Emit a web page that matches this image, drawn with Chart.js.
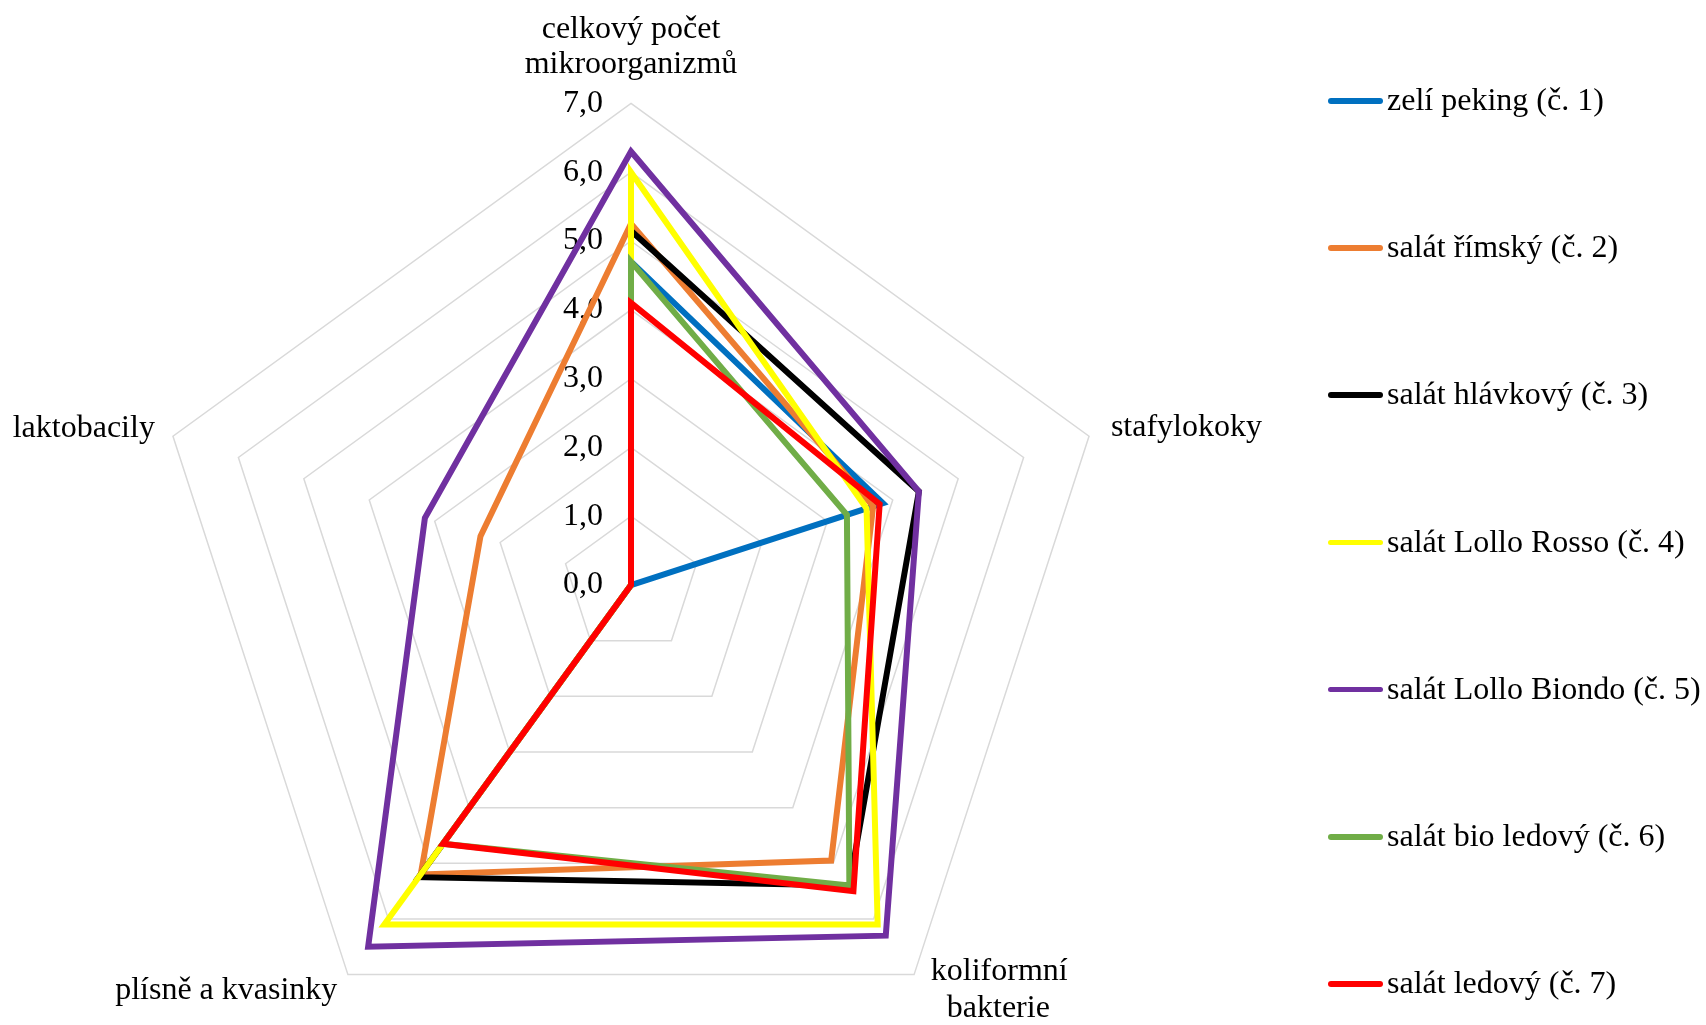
<!DOCTYPE html>
<html>
<head>
<meta charset="utf-8">
<title>Mikrobiologie salátů</title>
<script src="https://cdn.jsdelivr.net/npm/chart.js@4.4.1/dist/chart.umd.min.js"></script>
<style>
  html, body { margin: 0; padding: 0; background: #fff; overflow: hidden; width: 1706px; height: 1025px; }
  #wrap { position: absolute; left: -79px; top: -25px; width: 1420px; height: 1147px; }
  #legend { position: absolute; left: 0; top: 0; z-index: 2; }
  .item { position: absolute; left: 1328px; height: 40px; line-height: 40px; font-size: 32px; font-family: "Liberation Serif", "Times New Roman", serif; color: #000; white-space: nowrap; }
  .item .line { position: absolute; left: 0; top: 19px; width: 55px; height: 5.5px; border-radius: 3px; }
  .item .txt { position: absolute; left: 59px; top: 0; }
</style>
</head>
<body>
<div id="wrap"><canvas id="myChart"></canvas></div>
<div id="legend"></div>
<script>
var NB = '\u00a0'

// osy (kategorie)
var categories = [
    ['celkový počet', 'mikroorganizmů'],
    'stafylokoky',
    [NB.repeat(4) + 'koliformní', NB.repeat(6) + 'bakterie'],
    'plísně a kvasinky',
    'laktobacily'
]

var seriesNames = [
    'zelí peking (č. 1)',
    'salát římský (č. 2)',
    'salát hlávkový (č. 3)',
    'salát Lollo Rosso (č. 4)',
    'salát Lollo Biondo (č. 5)',
    'salát bio ledový (č. 6)',
    'salát ledový (č. 7)'
]

var colors = ['#0070C0', '#ED7D31', '#000000', '#FFFF00', '#7030A0', '#70AD47', '#FF0000']

// hodnoty: celkový počet, stafylokoky, koliformní, plísně a kvasinky, laktobacily
var zeliPeking = [4.7, 3.85, 0, 0, 0]
var rimsky = [5.25, 3.7, 4.95, 5.2, 2.3]
var hlavkovy = [5.15, 4.4, 5.4, 5.25, 0]
var lolloRosso = [6.0, 3.6, 6.1, 6.1, 0]
var lolloBiondo = [6.3, 4.4, 6.3, 6.5, 3.15]
var bioLedovy = [4.7, 3.3, 5.4, 4.65, 0]
var ledovy = [4.1, 3.8, 5.5, 4.65, 0]

var tickValues = [0, 1, 2, 3, 4, 5, 6, 7]

var allSeries = [zeliPeking, rimsky, hlavkovy, lolloRosso, lolloBiondo, bioLedovy, ledovy]

var labelPadding = [5, 7, -42, 2, 3]
var labelLineHeight = [1.1, 0.1, 1.15, 0.1, 0.1]

var datasets = []
for (var i in allSeries) {
    datasets.push({
        label: seriesNames[i],
        data: allSeries[i],
        // later series go on top (like Excel)
        order: allSeries.length - i,
        borderColor: colors[i],
        backgroundColor: 'rgba(0,0,0,0)',
        borderWidth: 6,
        borderJoinStyle: 'miter',
        pointRadius: 0,
        pointHoverRadius: 0,
        fill: false,
        tension: 0
    })
}

var ctx = document.getElementById('myChart').getContext('2d');
var chart = new Chart(ctx, {
    type: 'radar',
    data: {
        labels: categories,
        datasets: datasets
    },
    options: {
        responsive: true,
        maintainAspectRatio: false,
        animation: false,
        layout: { padding: 0 },
        plugins: {
            legend: { display: false },
            tooltip: { enabled: false }
        },
        scales: {
            r: {
                min: -1e-9,
                max: tickValues[tickValues.length - 1],
                angleLines: { display: false },
                grid: {
                    color: function (c) { return c.index === 0 ? 'rgba(0,0,0,0)' : '#d9d9d9' },
                    lineWidth: 1.5
                },
                ticks: {
                    stepSize: 1,
                    showLabelBackdrop: false,
                    backdropPadding: 0,
                    color: '#000',
                    font: { family: '"Liberation Serif", "Times New Roman", serif', size: 32 },
                    callback: function (value) {
                        return (Math.round(value * 10) / 10).toFixed(1).replace('.', ',') + NB.repeat(12)
                    }
                },
                pointLabels: {
                    color: '#000',
                    padding: function (c) { return labelPadding[c.index] },
                    font: function (c) {
                        return { family: '"Liberation Serif", "Times New Roman", serif', size: 32, lineHeight: labelLineHeight[c.index] }
                    }
                }
            }
        }
    }
});

// legenda vpravo
var legend = document.getElementById('legend')
for (var j in seriesNames) {
    var item = document.createElement('div')
    item.className = 'item'
    item.style.top = (101 + 147.2 * j - 22) + 'px'
    var line = document.createElement('span')
    line.className = 'line'
    line.style.background = colors[j]
    var txt = document.createElement('span')
    txt.className = 'txt'
    txt.textContent = seriesNames[j]
    item.appendChild(line)
    item.appendChild(txt)
    legend.appendChild(item)
}
</script>
</body>
</html>
